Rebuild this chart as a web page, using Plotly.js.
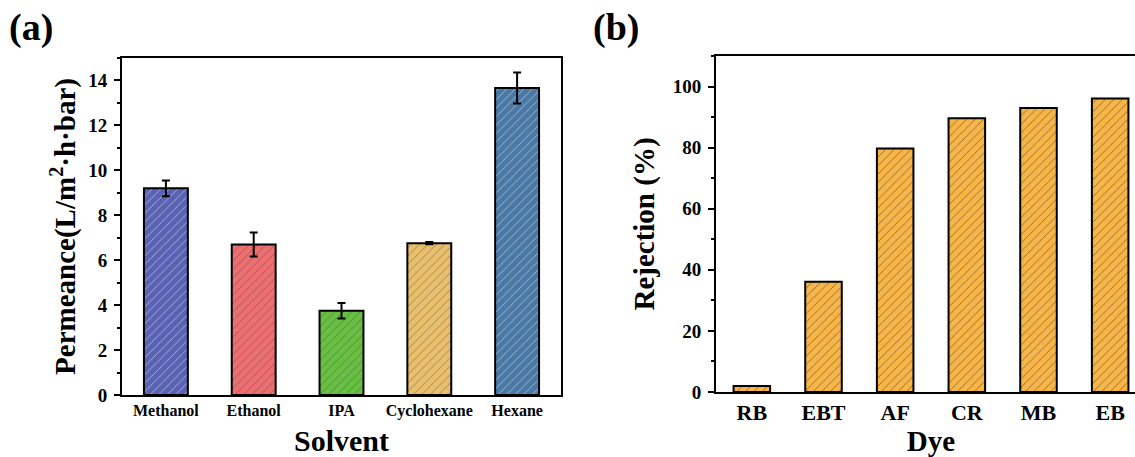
<!DOCTYPE html>
<html>
<head>
<meta charset="utf-8">
<script src="https://cdn.plot.ly/plotly-3.0.1.min.js"></script>
<style>
html,body{margin:0;padding:0;overflow:hidden;background:#fff;}
#chart{width:1150px;height:457px;}
</style>
</head>
<body>
<div id="chart"></div>
<script>
// Panel (a): solvent permeance
const solvents = ["Methanol", "Ethanol", "IPA", "Cyclohexane", "Hexane"];
const permeance = [9.2, 6.7, 3.75, 6.76, 13.66];
const permeanceErr = [0.35, 0.53, 0.34, 0.05, 0.69];
const solventColors = ["#5a63b3", "#ee6f70", "#68c043", "#e9bf6b", "#4a79a6"];

// Panel (b): dye rejection
const dyes = ["RB", "EBT", "AF", "CR", "MB", "EB"];
const rejection = [2.0, 36.1, 79.7, 89.6, 93.0, 96.1];
const dyeColor = "#f7b548";

const FONT = "Liberation Serif, Times New Roman, serif";
const W = 1150, H = 457;

const traceA = {
  type: "bar", x: solvents, y: permeance, xaxis: "x", yaxis: "y",
  width: 0.5,
  marker: {
    color: solventColors,
    line: {color: "#000", width: 2},
    pattern: {shape: "/", fillmode: "overlay", bgcolor: solventColors, size: 6, solidity: 0.1, fgcolor: "#222222", fgopacity: 0.75}
  },
  error_y: {type: "data", array: permeanceErr, visible: true, color: "#000", thickness: 2, width: 4},
  showlegend: false, hoverinfo: "x+y"
};

const traceB = {
  type: "bar", x: dyes, y: rejection, xaxis: "x2", yaxis: "y2",
  width: 0.51,
  marker: {
    color: dyeColor,
    line: {color: "#000", width: 2},
    pattern: {shape: "/", fillmode: "overlay", bgcolor: dyeColor, size: 6, solidity: 0.1, fgcolor: "#222222", fgopacity: 0.75}
  },
  showlegend: false, hoverinfo: "x+y"
};

const axisCommon = {
  showline: true, linecolor: "#000", linewidth: 2, mirror: true,
  showgrid: false, zeroline: false, fixedrange: true
};

const layout = {
  width: W, height: H,
  margin: {l: 0, r: 0, t: 0, b: 0},
  paper_bgcolor: "#fff", plot_bgcolor: "#fff",
  font: {family: FONT, color: "#000"},
  xaxis: Object.assign({}, axisCommon, {
    domain: [122 / W, 561 / W], anchor: "y",
    range: [-0.5, 4.5], ticks: "",
    tickfont: {family: FONT, size: 16, weight: "bold", color: "#000"},
    title: {text: "Solvent", font: {family: FONT, size: 30, weight: "bold", color: "#000"}, standoff: 14}
  }),
  yaxis: Object.assign({}, axisCommon, {
    domain: [(H - 395) / H, (H - 58) / H], anchor: "x",
    range: [0, 15], dtick: 2, tick0: 0,
    ticks: "outside", ticklen: 6, tickwidth: 2, tickcolor: "#000", ticklabelstandoff: 3,
    minor: {dtick: 1, tick0: 0, ticks: "outside", ticklen: 3, tickwidth: 2, tickcolor: "#000"},
    tickfont: {family: FONT, size: 19, weight: "bold", color: "#000"},
    title: {text: "Permeance(L/m<sup>2</sup>·h·bar)", font: {family: FONT, size: 29, weight: "bold", color: "#000"}, standoff: 4}
  }),
  xaxis2: Object.assign({}, axisCommon, {
    domain: [716 / W, 1146 / W], anchor: "y2",
    range: [-0.5, 5.5], ticks: "",
    tickfont: {family: FONT, size: 22, weight: "bold", color: "#000"},
    title: {text: "Dye", font: {family: FONT, size: 29, weight: "bold", color: "#000"}, standoff: 10}
  }),
  yaxis2: Object.assign({}, axisCommon, {
    domain: [(H - 392) / H, (H - 56) / H], anchor: "x2",
    range: [0, 110], dtick: 20, tick0: 0,
    ticks: "outside", ticklen: 6, tickwidth: 2, tickcolor: "#000", ticklabelstandoff: 3,
    minor: {dtick: 10, tick0: 0, ticks: "outside", ticklen: 3, tickwidth: 2, tickcolor: "#000"},
    tickfont: {family: FONT, size: 19, weight: "bold", color: "#000"},
    title: {text: "Rejection (%)", font: {family: FONT, size: 29, weight: "bold", color: "#000"}, standoff: 10}
  }),
  annotations: [
    {text: "(a)", xref: "paper", yref: "paper", x: 31 / W, y: 1 - 28 / H, xanchor: "center", yanchor: "middle",
     showarrow: false, font: {family: FONT, size: 38, weight: "bold", color: "#000"}},
    {text: "(b)", xref: "paper", yref: "paper", x: 616 / W, y: 1 - 28 / H, xanchor: "center", yanchor: "middle",
     showarrow: false, font: {family: FONT, size: 38, weight: "bold", color: "#000"}}
  ]
};

Plotly.newPlot("chart", [traceA, traceB], layout, {staticPlot: true, displayModeBar: false});
</script>
</body>
</html>
